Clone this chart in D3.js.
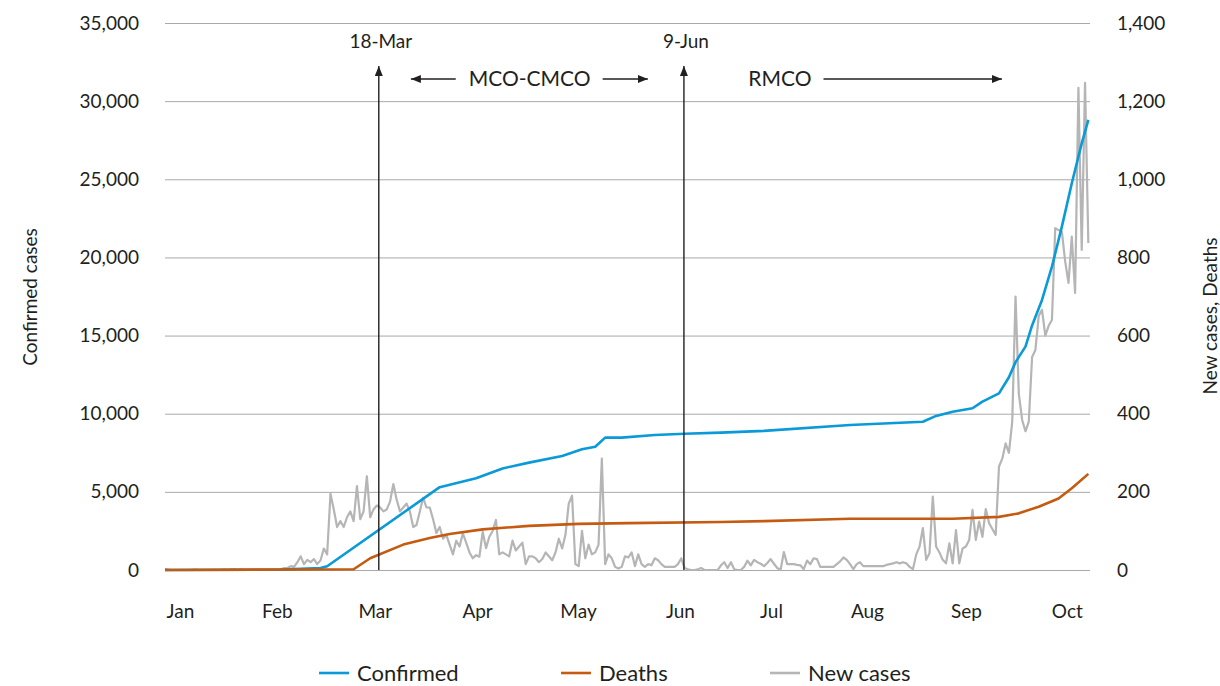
<!DOCTYPE html>
<html>
<head>
<meta charset="utf-8">
<script src="https://cdn.jsdelivr.net/npm/d3@7"></script>
<style>
  body { margin: 0; background: #fff; }
  svg text { font-family: Lato, "Noto Sans", sans-serif; fill: #231f20; }
</style>
</head>
<body>
<svg id="chart" width="1220" height="686"></svg>
<script>
// days counted from 25 Jan 2020
const months = ['Jan', 'Feb', 'Mar', 'Apr', 'May', 'Jun', 'Jul', 'Aug', 'Sep', 'Oct'];
const monthTickDays = [4.5, 33.8, 63.4, 94.3, 124.8, 155.6, 183.1, 212.1, 242, 272.5];
const leftTicks = [0, 5000, 10000, 15000, 20000, 25000, 30000, 35000];
const rightTicks = [0, 200, 400, 600, 800, 1000, 1200, 1400];

const confirmedDays = [0, 35, 47, 49, 83, 94, 102, 110, 120, 126, 130, 133, 138, 148, 157, 168, 181, 207, 229, 233, 238, 244, 247, 252, 255, 257, 260, 262, 265, 268, 271, 274, 277, 279];
const confirmedValues = [4, 25, 130, 240, 5300, 5870, 6500, 6870, 7300, 7720, 7890, 8470, 8470, 8640, 8720, 8790, 8900, 9280, 9490, 9860, 10130, 10350, 10770, 11300, 12330, 13300, 14290, 15650, 17280, 19410, 21970, 24750, 27300, 28800];

const deathsDays = [0, 57, 62, 72, 80, 86, 96, 110, 125, 140, 168, 181, 207, 238, 252, 258, 264, 270, 274, 279];
const deathsValues = [0, 2, 30, 65, 82, 92, 104, 113, 118, 120, 123, 125, 131, 131, 136, 145, 162, 183, 209, 246];

// one value per day
const newCases = [
  3, 1, 0, 0, 0, 0, 0, 0, 0, 1,
  0, 0, 0, 0, 0, 0, 0, 0, 1, 0,
  1, 2, 0, 1, 0, 0, 0, 0, 0, 0,
  0, 0, 0, 1, 0, 2, 5, 5, 10, 8,
  20, 35, 15, 26, 20, 28, 15, 25, 55, 40,
  195, 155, 110, 125, 110, 135, 150, 125, 215, 130,
  150, 240, 135, 155, 165, 160, 150, 155, 175, 220,
  180, 150, 160, 170, 150, 110, 115, 150, 185, 160,
  160, 130, 95, 110, 80, 90, 65, 40, 75, 60,
  94, 70, 45, 30, 38, 34, 98, 56, 85, 100,
  128, 40, 45, 40, 35, 75, 50, 60, 70, 15,
  35, 35, 30, 20, 28, 45, 35, 25, 45, 80,
  55, 90, 170, 190, 15, 10, 100, 30, 65, 40,
  45, 65, 285, 15, 40, 30, 8, 4, 8, 35,
  32, 45, 10, 40, 15, 8, 15, 12, 30, 25,
  15, 8, 8, 8, 8, 15, 30, 5, 2, 0,
  0, 2, 5, 0, 0, 0, 0, 0, 12, 20,
  5, 20, 2, 0, 0, 8, 24, 12, 26, 20,
  16, 10, 18, 28, 16, 5, 0, 46, 15, 15,
  15, 13, 12, 2, 24, 15, 30, 28, 8, 8,
  8, 8, 8, 15, 22, 32, 26, 15, 2, 15,
  20, 10, 10, 10, 10, 10, 10, 10, 13, 15,
  17, 20, 17, 20, 17, 8, 2, 40, 60, 107,
  26, 43, 188, 60, 45, 26, 17, 68, 17, 102,
  17, 55, 60, 77, 154, 77, 124, 85, 156, 120,
  105, 90, 265, 285, 324, 300, 380, 700, 450, 384,
  355, 380, 545, 563, 650, 666, 600, 625, 640, 875,
  870, 866, 790, 735, 853, 709, 1234, 819, 1247, 837
];

const eventLabels = ['18-Mar', '9-Jun'];
const eventDays = [64.6, 156.8];

const phaseLabels = ['MCO-CMCO', 'RMCO'];
const phaseTextDays = [110.2, 185.8];
const phaseStartDays = [74.3, null];
const phaseEndDays = [145.9, 252.9];

const seriesNames = ['Confirmed', 'Deaths', 'New cases'];
const seriesColors = ['#0a9ad7', '#c55a11', '#b5b5b5'];

const plotLeft = 165, plotRight = 1090, plotTop = 23, plotBottom = 570;
const fontSize = 19;

const svg = d3.select('#chart');

svg.append('defs').append('marker')
    .attr('id', 'arrow')
    .attr('viewBox', '0 0 10 8')
    .attr('markerWidth', 10)
    .attr('markerHeight', 8)
    .attr('markerUnits', 'userSpaceOnUse')
    .attr('refX', 10)
    .attr('refY', 4)
    .attr('orient', 'auto')
    .append('path')
    .attr('d', 'M0,0 L10,4 L0,8 Z')
    .attr('fill', '#231f20');

const x = d3.scaleLinear().domain([0, 279.5]).range([plotLeft, plotRight]);
const yLeft = d3.scaleLinear().domain([0, 35000]).range([plotBottom, plotTop]);
const yRight = d3.scaleLinear().domain([0, 1400]).range([plotBottom, plotTop]);

// left axis + grid
const gLeft = svg.append('g')
    .attr('transform', `translate(${plotLeft},0)`)
    .call(d3.axisLeft(yLeft).tickValues(leftTicks).tickFormat(d3.format(','))
        .tickSize(-(plotRight - plotLeft)).tickPadding(26));
gLeft.select('.domain').remove();
gLeft.selectAll('.tick line').attr('stroke', '#a9a9a9').attr('stroke-width', 1);
gLeft.attr('font-size', fontSize).attr('font-family', null);

const gRight = svg.append('g')
    .attr('transform', `translate(${plotRight},0)`)
    .call(d3.axisRight(yRight).tickValues(rightTicks).tickFormat(d3.format(','))
        .tickSize(0).tickPadding(27));
gRight.select('.domain').remove();
gRight.attr('font-size', fontSize).attr('font-family', null);

const gBottom = svg.append('g')
    .attr('transform', `translate(0,${plotBottom})`)
    .call(d3.axisBottom(x).tickValues(monthTickDays).tickFormat((d, i) => months[i])
        .tickSize(0).tickPadding(35));
gBottom.select('.domain').remove();
gBottom.attr('font-size', fontSize).attr('font-family', null);

// axis titles
svg.append('text')
    .attr('transform', 'translate(37,297) rotate(-90)')
    .attr('text-anchor', 'middle')
    .attr('font-size', fontSize)
    .text('Confirmed cases');

svg.append('text')
    .attr('transform', 'translate(1217,316) rotate(-90)')
    .attr('text-anchor', 'middle')
    .attr('font-size', fontSize)
    .text('New cases, Deaths');

// lines
const newLine = d3.line().x((d, i) => x(i)).y(d => yRight(d));
svg.append('path')
    .datum(newCases)
    .attr('d', newLine)
    .attr('fill', 'none')
    .attr('stroke', seriesColors[2])
    .attr('stroke-width', 2.2)
    .attr('stroke-linejoin', 'round');

const confLine = d3.line().x(d => x(d[0])).y(d => yLeft(d[1]));
svg.append('path')
    .datum(d3.zip(confirmedDays, confirmedValues))
    .attr('d', confLine)
    .attr('fill', 'none')
    .attr('stroke', seriesColors[0])
    .attr('stroke-width', 2.6)
    .attr('stroke-linejoin', 'round');

const deathLine = d3.line().x(d => x(d[0])).y(d => yRight(d[1]));
svg.append('path')
    .datum(d3.zip(deathsDays, deathsValues))
    .attr('d', deathLine)
    .attr('fill', 'none')
    .attr('stroke', seriesColors[1])
    .attr('stroke-width', 2.6)
    .attr('stroke-linejoin', 'round');

// event markers
const arrowY = 79;
eventDays.forEach((d, i) => {
    svg.append('line')
        .attr('x1', x(d)).attr('x2', x(d))
        .attr('y1', plotBottom).attr('y2', 66)
        .attr('stroke', '#231f20')
        .attr('stroke-width', 1.4)
        .attr('marker-end', 'url(#arrow)');
    svg.append('text')
        .attr('x', x(d) + 2)
        .attr('y', 48)
        .attr('text-anchor', 'middle')
        .attr('font-size', fontSize)
        .text(eventLabels[i]);
});

// phase labels
phaseLabels.forEach((label, i) => {
    const t = svg.append('text')
        .attr('x', x(phaseTextDays[i]))
        .attr('y', arrowY)
        .attr('dy', '0.35em')
        .attr('text-anchor', 'middle')
        .attr('font-size', 21)
        .text(label);
    const bb = t.node().getBBox();
    if (phaseStartDays[i] != null) {
        svg.append('line')
            .attr('x1', bb.x - 13).attr('x2', x(phaseStartDays[i]))
            .attr('y1', arrowY).attr('y2', arrowY)
            .attr('stroke', '#231f20').attr('stroke-width', 1.4)
            .attr('marker-end', 'url(#arrow)');
    }
    svg.append('line')
        .attr('x1', bb.x + bb.width + 12).attr('x2', x(phaseEndDays[i]))
        .attr('y1', arrowY).attr('y2', arrowY)
        .attr('stroke', '#231f20').attr('stroke-width', 1.4)
        .attr('marker-end', 'url(#arrow)');
});

// legend
const legendX = [319, 561, 770];
const legend = svg.append('g');
seriesNames.forEach((name, i) => {
    legend.append('line')
        .attr('x1', legendX[i]).attr('x2', legendX[i] + 30)
        .attr('y1', 673).attr('y2', 673)
        .attr('stroke', seriesColors[i])
        .attr('stroke-width', 2.6);
    legend.append('text')
        .attr('x', legendX[i] + 38)
        .attr('y', 673)
        .attr('dy', '0.35em')
        .attr('font-size', 22)
        .text(name);
});
</script>
</body>
</html>
